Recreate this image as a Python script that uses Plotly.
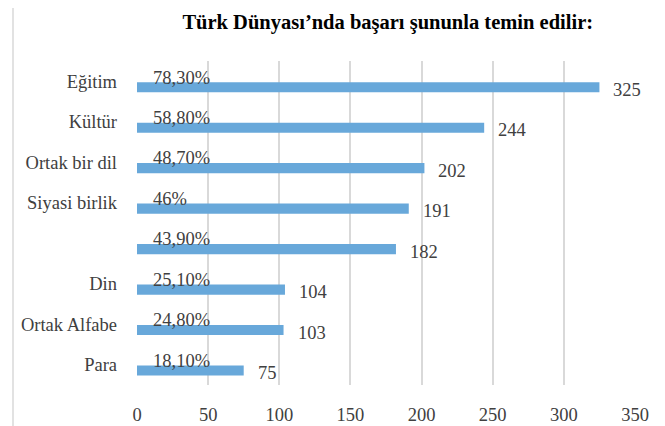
import plotly.graph_objects as go

# data
categories = ["Eğitim", "Kültür", "Ortak bir dil", "Siyasi birlik", " ", "Din", "Ortak Alfabe", "Para"]
counts = [325, 244, 202, 191, 182, 104, 103, 75]
percent_labels = ["78,30%", "58,80%", "48,70%", "46%", "43,90%", "25,10%", "24,80%", "18,10%"]
x_ticks = [0, 50, 100, 150, 200, 250, 300, 350]

FONT = "Liberation Serif, Times New Roman, serif"
BAR_COLOR = "#68A8DA"
GRID = "#D9D9D9"
TEXT = "#404040"
SIZE = 18.5

fig = go.Figure()
fig.add_trace(go.Bar(
    x=counts,
    y=categories,
    orientation="h",
    width=0.25,
    offset=0.017,
    marker=dict(color=BAR_COLOR, line=dict(width=0)),
    hoverinfo="x+y",
))

# percentage labels sit on the top edge of each bar, count labels past the bar end
annotations = []
for cat, pct, n in zip(categories, percent_labels, counts):
    annotations.append(dict(
        x=0, y=cat, xref="x", yref="y", text=pct, showarrow=False,
        xanchor="left", yanchor="middle", xshift=14, yshift=4,
        font=dict(family=FONT, size=SIZE, color=TEXT),
    ))
    annotations.append(dict(
        x=n, y=cat, xref="x", yref="y", text=str(n), showarrow=False,
        xanchor="left", yanchor="middle", xshift=12, yshift=-8.5,
        font=dict(family=FONT, size=SIZE, color=TEXT),
    ))

# page body has an 8px margin, so the figure is 8px smaller and margins shifted
fig.update_layout(
    width=657,
    height=418,
    margin=dict(l=129, r=30, t=53, b=41),
    paper_bgcolor="white",
    plot_bgcolor="white",
    showlegend=False,
    title=dict(
        text="<b>Türk Dünyası’nda başarı şununla temin edilir:</b>",
        x=0.578, xanchor="center", y=0.966, yanchor="middle",
        font=dict(family=FONT, size=20.5, color="black"),
    ),
    font=dict(family=FONT, size=SIZE, color=TEXT),
    annotations=annotations,
    shapes=[dict(
        type="line", xref="paper", yref="paper",
        x0=-0.249, x1=-0.249, y0=-0.2, y1=1.25,
        line=dict(color=GRID, width=1.5),
    )],
)

fig.update_xaxes(
    range=[0, 350],
    tickvals=x_ticks,
    showgrid=True,
    gridcolor=GRID,
    gridwidth=1.5,
    zeroline=False,
    showline=False,
    ticks="",
    automargin=False,
    ticklabelstandoff=16,
    tickfont=dict(family=FONT, size=SIZE, color=TEXT),
)
fig.update_yaxes(
    categoryorder="array",
    categoryarray=categories,
    autorange="reversed",
    showgrid=False,
    zeroline=False,
    showline=False,
    ticks="",
    automargin=False,
    ticklabelstandoff=19,
    tickfont=dict(family=FONT, size=SIZE, color=TEXT),
)

fig.write_html("out.html")
